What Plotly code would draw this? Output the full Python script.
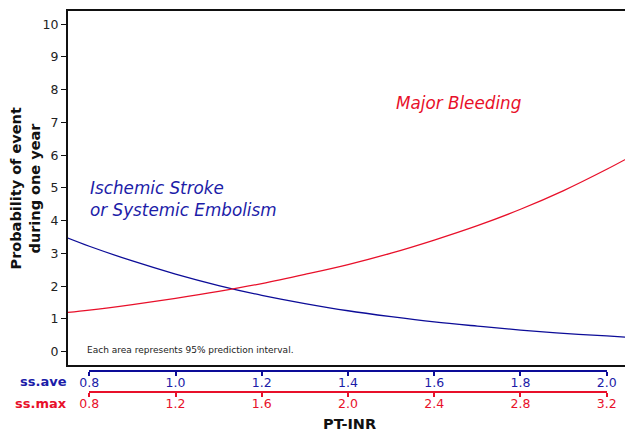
import plotly.graph_objects as go

# PT-INR (ss.ave scale) sample points
pt_inr = [0.75, 0.8, 0.9, 1.0, 1.1, 1.2, 1.3, 1.4, 1.5, 1.6, 1.7, 1.8, 1.9, 2.0, 2.05]
# Probability of event during one year (%)
stroke = [3.47, 3.22, 2.77, 2.37, 2.02, 1.72, 1.47, 1.25, 1.07, 0.91, 0.78, 0.66, 0.56, 0.48, 0.44]
bleeding = [1.20, 1.27, 1.44, 1.63, 1.84, 2.08, 2.36, 2.66, 3.01, 3.41, 3.85, 4.35, 4.92, 5.57, 5.92]

ss_ave_ticks = [0.8, 1.0, 1.2, 1.4, 1.6, 1.8, 2.0]
ss_max_ticks = [0.8, 1.2, 1.6, 2.0, 2.4, 2.8, 3.2]
y_ticks = list(range(0, 11))

BLUE_LINE = "#0c0c98"
BLUE_TXT = "#1c1ca8"
RED = "#e8102a"
FONT = "DejaVu Sans"

W, H = 625, 431
L, T = 68, 11
PW, PH = W - L, H - T


def px_x(p):
    return (p - L) / PW


def px_y(p):
    return (H - p) / PH


fig = go.Figure()
fig.add_trace(go.Scatter(x=pt_inr, y=stroke, mode="lines",
                         line=dict(color=BLUE_LINE, width=1.3, shape="spline", smoothing=1),
                         showlegend=False, hoverinfo="skip"))
fig.add_trace(go.Scatter(x=pt_inr, y=bleeding, mode="lines",
                         line=dict(color=RED, width=1.3, shape="spline", smoothing=1),
                         showlegend=False, hoverinfo="skip"))
# helper traces so the secondary scales are drawn
fig.add_trace(go.Scatter(x=ss_ave_ticks, y=[None] * len(ss_ave_ticks), xaxis="x2", yaxis="y",
                         mode="lines", showlegend=False, hoverinfo="skip"))
fig.add_trace(go.Scatter(x=ss_max_ticks, y=[None] * len(ss_max_ticks), xaxis="x3", yaxis="y",
                         mode="lines", showlegend=False, hoverinfo="skip"))

dom = [px_x(89.3), px_x(606.7)]

fig.update_layout(
    width=W, height=H, autosize=False,
    margin=dict(l=L, r=0, t=T, b=0, pad=0, autoexpand=False),
    paper_bgcolor="white", plot_bgcolor="rgba(0,0,0,0)",
    font=dict(family=FONT, color="#222"),
    xaxis=dict(range=[0.7506, 2.0423], domain=[0, 1], showline=True, mirror=True,
               linecolor="#111", linewidth=2, showticklabels=False, ticks="",
               showgrid=False, zeroline=False, automargin=False),
    yaxis=dict(range=[-0.407, 10.404], domain=[px_y(365), 1], showline=True,
               linecolor="#111", linewidth=2, ticks="outside", ticklen=5, tickwidth=1,
               tickcolor="#111", tickvals=y_ticks, ticktext=[str(v) for v in y_ticks],
               tickfont=dict(size=12.5, color="#222"), showgrid=False, zeroline=False,
               automargin=False),
    xaxis2=dict(range=[0.8, 2.0], domain=dom, anchor="free", position=px_y(371),
                showline=True, linecolor=BLUE_LINE, linewidth=2, ticks="outside", ticklen=4,
                tickwidth=2, tickcolor=BLUE_LINE, tickvals=ss_ave_ticks,
                ticktext=[f"{v:.1f}" for v in ss_ave_ticks], ticklabelstandoff=-4,
                tickfont=dict(size=12.5, color=BLUE_TXT), showgrid=False, zeroline=False,
                automargin=False),
    xaxis3=dict(range=[0.8, 3.2], domain=dom, anchor="free", position=px_y(392),
                showline=True, linecolor=RED, linewidth=2, ticks="outside", ticklen=4,
                tickwidth=2, tickcolor=RED, tickvals=ss_max_ticks,
                ticktext=[f"{v:.1f}" for v in ss_max_ticks], ticklabelstandoff=-4,
                tickfont=dict(size=12.5, color=RED), showgrid=False, zeroline=False,
                automargin=False),
)

ann = [
    dict(text="<b>Probability of event</b>", x=px_x(15), y=px_y(188.5), textangle=-90,
         font=dict(size=14.5, color="#111")),
    dict(text="<b>during one year</b>", x=px_x(34), y=px_y(188.5), textangle=-90,
         font=dict(size=14.5, color="#111")),
    dict(text="<b>ss.ave</b>", x=px_x(69), y=px_y(381.7), xanchor="right",
         font=dict(size=13, color=BLUE_TXT)),
    dict(text="<b>ss.max</b>", x=px_x(69), y=px_y(403.5), xanchor="right",
         font=dict(size=13, color=RED)),
    dict(text="<b>PT-INR</b>", x=px_x(350), y=px_y(423.5), font=dict(size=14.5, color="#111")),
    dict(text="<i>Ischemic Stroke<br>or Systemic Embolism</i>", x=px_x(88), y=px_y(199),
         xanchor="left", align="left", font=dict(size=16.8, color=BLUE_TXT)),
    dict(text="<i>Major Bleeding</i>", x=px_x(394), y=px_y(102.7), xanchor="left",
         font=dict(size=16.8, color=RED)),
    dict(text="Each area represents 95% prediction interval.", x=px_x(85), y=px_y(350),
         xanchor="left", font=dict(size=9, color="#222")),
]
for a in ann:
    a.setdefault("xanchor", "center")
    a.update(xref="paper", yref="paper", yanchor="middle", showarrow=False)
    fig.add_annotation(**a)

fig.write_html("out.html")
